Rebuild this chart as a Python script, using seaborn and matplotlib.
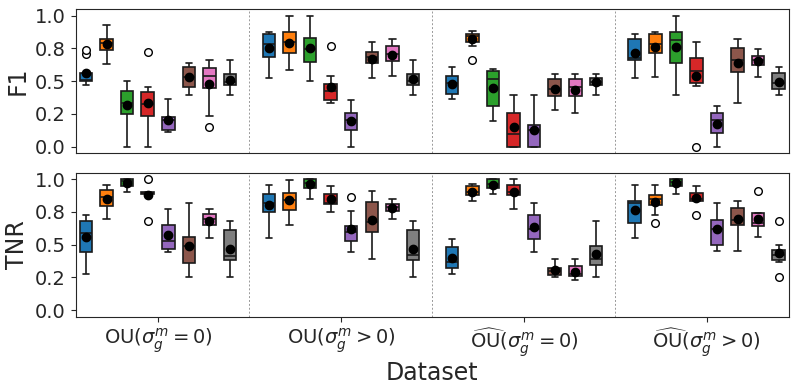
import numpy as np
import pandas as pd
import matplotlib
matplotlib.use("Agg")
import matplotlib.pyplot as plt
from matplotlib.ticker import FormatStrFormatter
import seaborn as sns

datasets = [r"OU($\sigma_g^m = 0$)",
            r"OU($\sigma_g^m > 0$)",
            r"$\widehat{\mathrm{OU}}$($\sigma_g^m = 0$)",
            r"$\widehat{\mathrm{OU}}$($\sigma_g^m > 0$)"]
models = ["M1", "M2", "M3", "M4", "M5", "M6", "M7", "M8"]

# per-run scores, one list per model (blue, orange, green, red, purple, brown, pink, gray)
f1_ou_zero = [
    [.47, .49, .50, .51, .51, .55, .56, .71, .74],
    [.63, .70, .74, .77, .79, .80, .82, .85, .93],
    [0, .20, .245, .30, .33, .40, .425, .48, .50],
    [0, .20, .233, .28, .324, .354, .415, .458, .724],
    [.109, .12, .124, .19, .20, .22, .225, .295, .362],
    [.397, .43, .458, .50, .534, .59, .607, .628, .635],
    [.152, .23, .446, .48, .541, .57, .597, .653, .66],
    [.397, .44, .471, .49, .496, .52, .556, .569, .66],
]
f1_ou_pos = [
    [.524, .62, .686, .72, .782, .82, .856, .862, .871],
    [.585, .624, .716, .76, .80, .83, .871, .90, .997],
    [.499, .60, .648, .70, .744, .79, .825, .962, 1.0],
    [.329, .35, .359, .40, .427, .47, .481, .539, .767],
    [0, .10, .129, .17, .20, .23, .256, .291, .352],
    [.524, .60, .635, .66, .681, .70, .719, .725, .795],
    [.541, .62, .653, .68, .706, .74, .769, .78, .82],
    [.395, .44, .468, .49, .501, .53, .556, .586, .66],
]
f1_ouhat_zero = [
    [.362, .38, .402, .46, .484, .51, .537, .562, .605],
    [.663, .769, .802, .84, .845, .856, .86, .88, .883],
    [.197, .25, .309, .46, .519, .545, .575, .582, .595],
    [0, 0, 0, .05, .096, .20, .26, .322, .395],
    [0, 0, 0, .10, .124, .14, .162, .195, .395],
    [.283, .34, .385, .41, .438, .47, .519, .541, .556],
    [.258, .33, .385, .42, .453, .47, .514, .529, .556],
    [.395, .46, .468, .487, .496, .52, .524, .54, .556],
]
f1_ouhat_pos = [
    [.524, .60, .661, .67, .676, .78, .82, .839, .856],
    [.531, .64, .711, .75, .784, .82, .86, .864, .871],
    [.395, .55, .64, .75, .812, .85, .873, .988, 1.0],
    [0, .461, .488, .53, .577, .61, .676, .696, .795],
    [0, .05, .104, .14, .205, .215, .26, .29, .311],
    [.329, .50, .572, .62, .658, .72, .754, .787, .82],
    [.531, .60, .623, .64, .661, .68, .693, .705, .744],
    [.395, .40, .443, .45, .488, .50, .56, .578, .605],
]

tnr_ou_zero = [
    [.278, .38, .444, .53, .588, .66, .679, .715, .73],
    [.699, .76, .793, .84, .866, .89, .919, .94, .952],
    [.902, .949, .949, .985, .985, 1, 1, 1, 1],
    [.682, .886, .886, .89, .893, .897, .899, .899, 1.0],
    [.444, .455, .467, .50, .528, .60, .649, .723, .773],
    [.252, .30, .361, .45, .492, .54, .561, .654, .818],
    [.551, .60, .652, .67, .694, .715, .732, .751, .773],
    [.252, .33, .384, .40, .417, .50, .611, .654, .682],
]
tnr_ou_pos = [
    [.55, .68, .752, .79, .818, .85, .889, .925, .955],
    [.649, .74, .765, .82, .84, .88, .891, .96, .997],
    [.848, .934, .934, .97, .97, 1, 1, 1, 1],
    [.75, .79, .808, .815, .821, .87, .889, .926, .945],
    [.444, .50, .53, .573, .60, .63, .646, .76, .861],
    [.391, .50, .596, .64, .674, .80, .823, .868, .909],
    [.699, .73, .758, .78, .79, .80, .813, .829, .848],
    [.252, .33, .386, .40, .419, .50, .611, .654, .682],
]
tnr_ouhat_zero = [
    [.278, .30, .323, .35, .369, .42, .48, .499, .545],
    [.833, .86, .876, .89, .90, .915, .949, .953, .96],
    [.889, .889, .929, .929, .96, 1, 1, 1, 1],
    [.77, .84, .876, .89, .90, .93, .955, .977, .998],
    [.444, .50, .54, .58, .619, .70, .727, .778, .818],
    [.252, .26, .268, .29, .298, .31, .323, .337, .389],
    [.23, .245, .258, .265, .275, .31, .336, .347, .389],
    [.252, .30, .343, .37, .389, .45, .492, .61, .682],
]
tnr_ouhat_pos = [
    [.548, .60, .664, .75, .818, .825, .833, .874, .955],
    [.665, .73, .80, .82, .85, .86, .882, .89, .955],
    [.889, .947, .947, .975, .975, 1, 1, 1, 1],
    [.73, .831, .831, .845, .85, .88, .894, .921, .949],
    [.449, .47, .498, .60, .621, .65, .687, .778, .818],
    [.455, .60, .649, .68, .692, .75, .78, .807, .833],
    [.558, .62, .644, .655, .664, .706, .745, .745, .909],
    [.252, .369, .386, .39, .424, .43, .462, .50, .682],
]


def to_frame(groups):
    rows = []
    for label, boxes in zip(datasets, groups):
        for model, values in zip(models, boxes):
            for v in values:
                rows.append((label, model, v))
    return pd.DataFrame(rows, columns=["Dataset", "Model", "Value"])


panels = [("F1", to_frame([f1_ou_zero, f1_ou_pos, f1_ouhat_zero, f1_ouhat_pos])),
          ("TNR", to_frame([tnr_ou_zero, tnr_ou_pos, tnr_ouhat_zero, tnr_ouhat_pos]))]

sns.set_style("ticks")
colors = sns.color_palette("tab10", 8)

fig, axes = plt.subplots(2, 1, figsize=(7.97, 3.92), dpi=100, sharex=True)
fig.subplots_adjust(left=0.095, right=0.99, top=0.977, bottom=0.192, hspace=0.135)

for ax, (metric, df) in zip(axes, panels):
    sns.boxplot(data=df, x="Dataset", y="Value", hue="Model", order=datasets,
                hue_order=models, palette=colors, saturation=1, width=0.9, gap=0.39,
                linewidth=1.2, linecolor="0.1", legend=False, ax=ax,
                showmeans=True,
                meanprops=dict(marker="o", markerfacecolor="black",
                               markeredgecolor="black", markersize=6),
                flierprops=dict(marker="o", markerfacecolor="white",
                                markeredgecolor="black", markersize=5.5))
    for x in [0.5, 1.5, 2.5]:
        ax.axvline(x, color="0.6", ls=(0, (2, 2)), lw=0.7)
    ax.set_xlim(-0.45, 3.45)
    ax.set_ylim(-0.05, 1.05)
    ax.set_yticks([0, 0.25, 0.5, 0.75, 1.0])
    ax.yaxis.set_major_formatter(FormatStrFormatter("%.1f"))
    ax.tick_params(labelsize=14)
    ax.set_ylabel(metric, fontsize=17)

axes[0].set_xlabel("")
axes[0].tick_params(axis="x", bottom=False)
axes[1].set_xlabel("Dataset", fontsize=17, labelpad=1)

plt.savefig("out.png", dpi=100)
